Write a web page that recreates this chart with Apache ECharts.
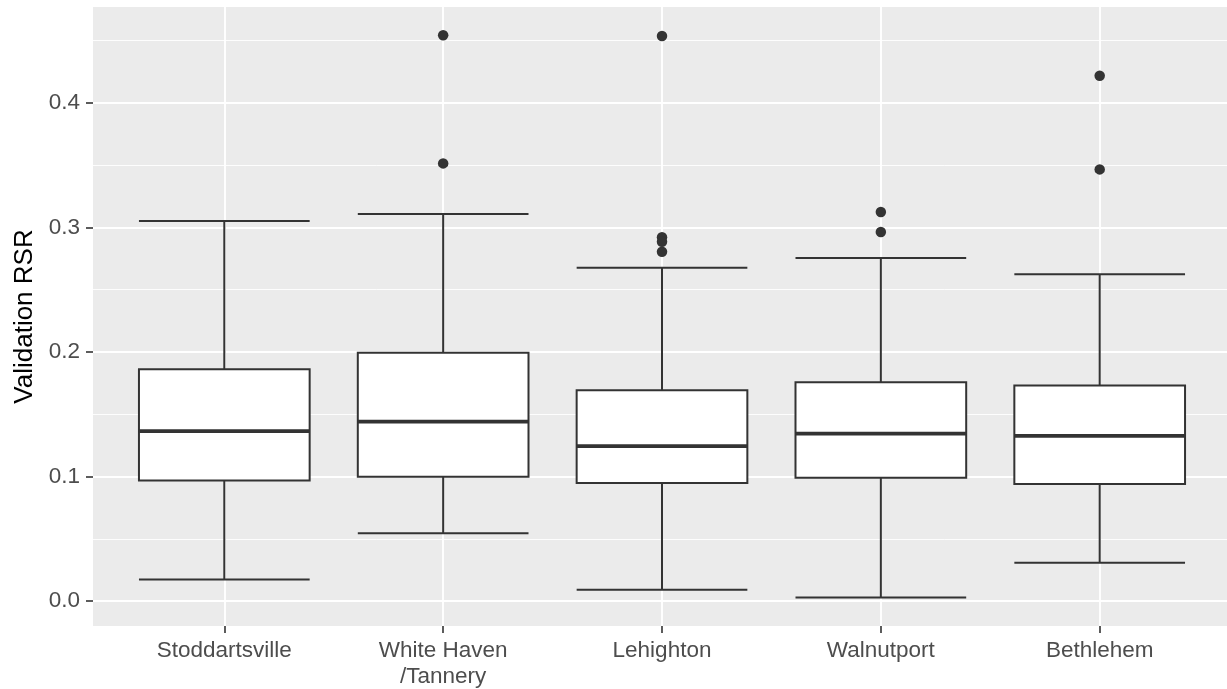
<!DOCTYPE html>
<html>
<head>
<meta charset="utf-8">
<script src="https://cdn.jsdelivr.net/npm/echarts@6/dist/echarts.min.js"></script>
<style>
html,body{margin:0;padding:0;background:#fff;}
#chart{width:1227px;height:689px;}
</style>
</head>
<body>
<div id="chart"></div>
<script>
const categories = ['Stoddartsville', 'White Haven\n/Tannery', 'Lehighton', 'Walnutport', 'Bethlehem'];
const whiskerLow = [0.0174, 0.0546, 0.0092, 0.0030, 0.0308];
const q1 = [0.0968, 0.0998, 0.0949, 0.0990, 0.0941];
const median = [0.1364, 0.1441, 0.1244, 0.1345, 0.1326];
const q3 = [0.1861, 0.1994, 0.1693, 0.1757, 0.1730];
const whiskerHigh = [0.3051, 0.3107, 0.2676, 0.2754, 0.2623];
const outliers = [
  [],
  [0.4542, 0.3513],
  [0.4535, 0.2920, 0.2885, 0.2804],
  [0.3123, 0.2962],
  [0.4216, 0.3465]
];
const yTicks = [0.0, 0.1, 0.2, 0.3, 0.4];
const yMinor = [0.05, 0.15, 0.25, 0.35, 0.45];
const yMin = -0.0199, yMax = 0.4768;

const positions = categories.map((c, i) => i + 1);
const boxData = positions.map((x, i) => [x, whiskerLow[i], q1[i], median[i], q3[i], whiskerHigh[i]]);
const medianData = positions.map((x, i) => [x, median[i], median[i], median[i], median[i], median[i]]);
const outlierData = [];
outliers.forEach((arr, i) => arr.forEach(v => outlierData.push([positions[i], v])));

const FONT = 'Liberation Sans, Arial, sans-serif';
const xBase = {
  type: 'value', min: 0.4, max: 5.6
};
const chart = echarts.init(document.getElementById('chart'), null, {renderer: 'canvas'});
chart.setOption({
  animation: false,
  backgroundColor: '#ffffff',
  grid: {
    left: 93, top: 7, width: 1138, bottom: 63,
    show: true, backgroundColor: '#EBEBEB', borderWidth: 0,
    containLabel: false, outerBoundsMode: 'none'
  },
  xAxis: [
    Object.assign({}, xBase, {
      axisLine: {show: false, onZero: false},
      axisTick: {show: true, customValues: positions, length: 7, lineStyle: {color: '#333333', width: 1.6}},
      axisLabel: {
        customValues: positions, margin: 12, color: '#4D4D4D', fontSize: 22.5, fontFamily: FONT, lineHeight: 26,
        formatter: v => categories[Math.round(v) - 1] || ''
      },
      splitLine: {show: true, lineStyle: {color: '#ffffff', width: 1.9}}
    }),
    Object.assign({}, xBase, {
      show: false,
      axisLine: {show: false, onZero: false},
      splitLine: {show: false}
    })
  ],
  yAxis: [
    {
      type: 'value', min: yMin, max: yMax,
      axisLine: {show: false, onZero: false},
      axisTick: {show: true, customValues: yTicks, length: 7, lineStyle: {color: '#333333', width: 1.6}},
      axisLabel: {customValues: yTicks, margin: 13, color: '#4D4D4D', fontSize: 22.5, fontFamily: FONT,
        formatter: v => v.toFixed(1)},
      splitLine: {show: true, lineStyle: {color: '#ffffff', width: 1.9}},
      name: 'Validation RSR', nameLocation: 'middle', nameGap: 55,
      nameTextStyle: {color: '#000000', fontSize: 26, fontFamily: FONT}
    },
    {
      type: 'value', min: yMin, max: yMax, position: 'left',
      axisLine: {show: false, onZero: false},
      axisTick: {show: false, customValues: yMinor},
      axisLabel: {show: false, customValues: yMinor},
      splitLine: {show: true, lineStyle: {color: '#ffffff', width: 0.9}}
    }
  ],
  series: [
    {
      type: 'boxplot', data: boxData, boxWidth: ['75%', '75%'], xAxisIndex: 0, yAxisIndex: 0,
      itemStyle: {color: '#ffffff', borderColor: '#333333', borderWidth: 2},
      emphasis: {disabled: true}
    },
    {
      type: 'boxplot', data: medianData, boxWidth: ['75%', '75%'], xAxisIndex: 1, yAxisIndex: 0,
      itemStyle: {color: '#333333', borderColor: '#333333', borderWidth: 3.8},
      emphasis: {disabled: true}
    },
    {
      type: 'scatter', data: outlierData, symbolSize: 10.5, xAxisIndex: 0, yAxisIndex: 0,
      itemStyle: {color: '#333333', opacity: 1},
      emphasis: {disabled: true}
    }
  ]
});
</script>
</body>
</html>
